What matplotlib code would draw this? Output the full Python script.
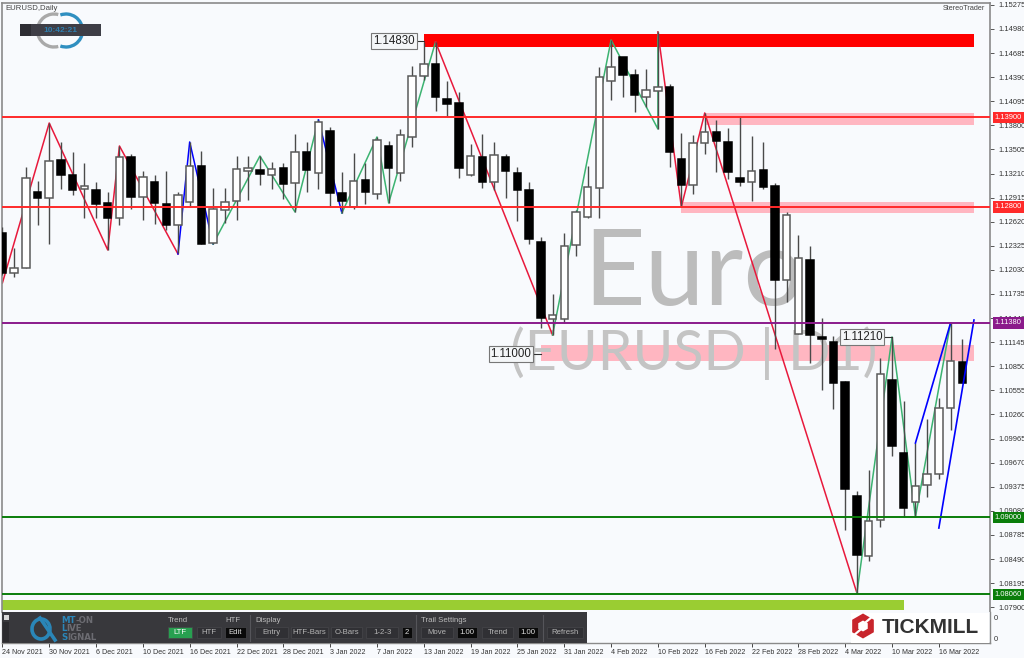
import matplotlib
matplotlib.use('Agg')
import matplotlib.pyplot as plt
from matplotlib.patches import Arc, Rectangle, RegularPolygon

plt.rcParams['font.family'] = ['Liberation Sans', 'DejaVu Sans']

# Daily candles
opens = [1.12482, 1.11992, 1.12053, 1.12984, 1.12910, 1.13375, 1.13192, 1.13020, 1.13008, 1.12849,
         1.12665, 1.13412, 1.12922, 1.13106, 1.12837, 1.12580, 1.12861, 1.13302, 1.12359, 1.12763,
         1.12873, 1.13241, 1.13253, 1.13192, 1.13278, 1.13094, 1.13473, 1.13216, 1.13730, 1.12971,
         1.12800, 1.13131, 1.12959, 1.13547, 1.13216, 1.13657, 1.14404, 1.14551, 1.14122, 1.14073,
         1.13192, 1.13412, 1.13106, 1.13412, 1.13216, 1.13008, 1.12372, 1.11429, 1.11429, 1.12335,
         1.12678, 1.13033, 1.14342, 1.14636, 1.14416, 1.14147, 1.14220, 1.14269, 1.13388, 1.13069,
         1.13584, 1.13718, 1.13596, 1.13155, 1.13106, 1.13253, 1.13057, 1.11907, 1.11245, 1.12151,
         1.11209, 1.11147, 1.10658, 1.09262, 1.08528, 1.08969, 1.10683, 1.09789, 1.09189, 1.09397,
         1.09532, 1.10340, 1.10903]
highs = [1.12555, 1.12298, 1.13290, 1.13118, 1.13828, 1.13596, 1.13473, 1.13339, 1.13106, 1.12984,
         1.13547, 1.13449, 1.13241, 1.13192, 1.13241, 1.12984, 1.13596, 1.13486, 1.13033, 1.13033,
         1.13424, 1.13424, 1.13424, 1.13351, 1.13339, 1.13694, 1.13596, 1.13865, 1.13779, 1.13229,
         1.13461, 1.13339, 1.13657, 1.13608, 1.13755, 1.14526, 1.14820, 1.14820, 1.14342, 1.14208,
         1.13571, 1.13694, 1.13596, 1.13449, 1.13290, 1.13106, 1.12433, 1.11735, 1.12482, 1.12763,
         1.13302, 1.14514, 1.14844, 1.14636, 1.14489, 1.14489, 1.14942, 1.14306, 1.13706, 1.13681,
         1.13951, 1.13865, 1.13767, 1.13902, 1.13669, 1.13596, 1.13094, 1.12739, 1.12457, 1.12323,
         1.11441, 1.11221, 1.10670, 1.09324, 1.09581, 1.10952, 1.11209, 1.10425, 1.09911, 1.10205,
         1.10462, 1.11380, 1.11184]
lows = [1.11967, 1.11943, 1.12053, 1.12580, 1.12347, 1.13020, 1.12947, 1.12665, 1.12665, 1.12274,
        1.12580, 1.12776, 1.12641, 1.12592, 1.12519, 1.12237, 1.12812, 1.12347, 1.12347, 1.12604,
        1.12641, 1.12886, 1.13069, 1.13020, 1.12898, 1.12739, 1.12984, 1.13020, 1.12800, 1.12727,
        1.12776, 1.12837, 1.12898, 1.12849, 1.13118, 1.13535, 1.14355, 1.13975, 1.13902, 1.13155,
        1.13180, 1.13033, 1.13008, 1.12910, 1.12629, 1.12347, 1.11319, 1.11233, 1.11380, 1.12200,
        1.12665, 1.12665, 1.14110, 1.14147, 1.13963, 1.14024, 1.13755, 1.13290, 1.12800, 1.12959,
        1.13449, 1.13229, 1.13143, 1.13057, 1.12873, 1.13020, 1.11062, 1.11637, 1.11245, 1.10890,
        1.10560, 1.10328, 1.08846, 1.08075, 1.08467, 1.08883, 1.09752, 1.09005, 1.09005, 1.09250,
        1.09470, 1.10070, 1.10646]
closes = [1.11992, 1.12053, 1.13155, 1.12910, 1.13363, 1.13192, 1.13008, 1.13057, 1.12837, 1.12665,
          1.13412, 1.12922, 1.13167, 1.12849, 1.12580, 1.12947, 1.13302, 1.12347, 1.12776, 1.12861,
          1.13265, 1.13278, 1.13204, 1.13265, 1.13082, 1.13473, 1.13253, 1.13841, 1.12971, 1.12873,
          1.13118, 1.12984, 1.13620, 1.13278, 1.13681, 1.14404, 1.14551, 1.14147, 1.14061, 1.13278,
          1.13424, 1.13106, 1.13437, 1.13241, 1.13008, 1.12408, 1.11441, 1.11478, 1.12323, 1.12739,
          1.13045, 1.14391, 1.14514, 1.14416, 1.14171, 1.14232, 1.14269, 1.13473, 1.13069, 1.13584,
          1.13718, 1.13608, 1.13229, 1.13106, 1.13241, 1.13045, 1.11907, 1.12702, 1.12176, 1.11233,
          1.11184, 1.10646, 1.09348, 1.08540, 1.08956, 1.10756, 1.09874, 1.09116, 1.09385, 1.09532,
          1.10340, 1.10915, 1.10646]

# Zigzag legs: bar number, price
red_x1 = [0, 4, 9, 10, 15]
red_y1 = [1.11870, 1.13828, 1.12274, 1.13547, 1.12225]
blue_x1 = [15, 16, 18]
blue_y1 = [1.12225, 1.13596, 1.12347]
green_x1 = [18, 22, 25, 27]
green_y1 = [1.12347, 1.13424, 1.12739, 1.13865]
blue_x2 = [27, 29]
blue_y2 = [1.13865, 1.12727]
green_x2 = [29, 32, 33, 37]
green_y2 = [1.12727, 1.13657, 1.12849, 1.14820]
red_x2 = [37, 47]
red_y2 = [1.14820, 1.11233]
green_x3 = [47, 52, 56, 56]
green_y3 = [1.11233, 1.14844, 1.13755, 1.14942]
red_x3 = [56, 58, 60, 73]
red_y3 = [1.14942, 1.12800, 1.13951, 1.08075]
green_x4 = [73, 76, 78, 81]
green_y4 = [1.08075, 1.11209, 1.09005, 1.11380]
channel_x1 = [78, 81]
channel_y1 = [1.09911, 1.11380]
channel_x2 = [80, 83]
channel_y2 = [1.08870, 1.11417]

# Price levels and zones
level_prices = [1.13900, 1.12800, 1.11380, 1.09000, 1.08060]
level_colors = ['#ff2a2a', '#ff2a2a', '#8b1a8b', '#0a7d0a', '#0a7d0a']
level_labels = ['1.13900', '1.12800', '1.11380', '1.09000', '1.08060']
zone_start = [36, 60, 58, 46, 0]
zone_end = [83, 83, 83, 83, 77]
zone_top = [1.14917, 1.13951, 1.12861, 1.11105, 1.07995]
zone_bottom = [1.14759, 1.13804, 1.12727, 1.10909, 1.07861]
zone_colors = ['#ff0000', '#ffb6c1', '#ffb6c1', '#ffb6c1', '#9acd32']

price_ticks = [1.15275, 1.14980, 1.14685, 1.14390, 1.14095, 1.13800, 1.13505, 1.13210, 1.12915,
               1.12620, 1.12325, 1.12030, 1.11735, 1.11440, 1.11145, 1.10850, 1.10555, 1.10260,
               1.09965, 1.09670, 1.09375, 1.09080, 1.08785, 1.08490, 1.08195, 1.07900]
date_bars = [0, 4, 8, 12, 16, 20, 24, 28, 32, 36, 40, 44, 48, 52, 56, 60, 64, 68, 72, 76, 80]
date_labels = ['24 Nov 2021', '30 Nov 2021', '6 Dec 2021', '10 Dec 2021', '16 Dec 2021',
               '22 Dec 2021', '28 Dec 2021', '3 Jan 2022', '7 Jan 2022', '13 Jan 2022',
               '19 Jan 2022', '25 Jan 2022', '31 Jan 2022', '4 Feb 2022', '10 Feb 2022',
               '16 Feb 2022', '22 Feb 2022', '28 Feb 2022', '4 Mar 2022', '10 Mar 2022',
               '16 Mar 2022']

BG = '#f8fafd'
W, H = 1024, 658

fig = plt.figure(figsize=(W / 100, H / 100), dpi=100, facecolor=BG)


def px_axes(left, top, right, bottom):
    return fig.add_axes([left / W, 1 - bottom / H, (right - left) / W, (bottom - top) / H])


# Main price window
ax = px_axes(2, 3, 990, 612)
ax.set_facecolor(BG)
ax.set_xlim(-0.034, 84.37)
ax.set_ylim(1.078423, 1.152971)
ax.spines['bottom'].set_visible(False)
for s in ['top', 'left', 'right']:
    ax.spines[s].set_color('#8a8a8a')
    ax.spines[s].set_linewidth(1.2)

for i in range(len(zone_start)):
    ax.add_patch(Rectangle((zone_start[i], zone_bottom[i]), zone_end[i] - zone_start[i],
                           zone_top[i] - zone_bottom[i], color=zone_colors[i], lw=0, zorder=1))

# Watermark
ax.text(49.6, 1.11600, 'Euro', fontsize=77, color='#bcbcbc', family='Lato',
        va='baseline', ha='left', zorder=1.5)
ax.text(43.4, 1.10805, '(EURUSD | D1)', fontsize=40, color='#c4c4c4', family='Lato',
        va='baseline', ha='left', zorder=1.5)

# Zigzags
for xs, ys, c in [(red_x1, red_y1, '#e8193c'), (blue_x1, blue_y1, '#0000ff'),
                  (green_x1, green_y1, '#3cb371'), (blue_x2, blue_y2, '#0000ff'),
                  (green_x2, green_y2, '#3cb371'), (red_x2, red_y2, '#e8193c'),
                  (green_x3, green_y3, '#3cb371'), (red_x3, red_y3, '#e8193c'),
                  (green_x4, green_y4, '#3cb371')]:
    ax.plot(xs, ys, color=c, lw=1.1, zorder=2)

# Candles
bars = list(range(len(opens)))
ax.vlines(bars, lows, highs, colors='#4a4a4a', lw=1, zorder=3)
for i in bars:
    up = closes[i] >= opens[i]
    ax.bar(i, abs(closes[i] - opens[i]), bottom=min(opens[i], closes[i]), width=0.64,
           color='white' if up else 'black', edgecolor='#5a5a5a' if up else 'black',
           lw=1.1, zorder=3.5)

# Channel lines go over the candles
ax.plot(channel_x1, channel_y1, color='#0000ff', lw=1.2, zorder=3.7)
ax.plot(channel_x2, channel_y2, color='#0000ff', lw=1.2, zorder=3.7)

for p, c in zip(level_prices, level_colors):
    ax.axhline(p, color=c, lw=1.4, zorder=4)

ax.set_xticks([])
ax.yaxis.tick_right()
ax.set_yticks(price_ticks)
ax.set_yticklabels(['%.5f' % p for p in price_ticks])
ax.tick_params(axis='y', length=3, width=0.7, pad=3, labelsize=5.4, color='#555555', labelcolor='#333333')

# Level tags on the price scale
for p, c, t in zip(level_prices, level_colors, level_labels):
    ax.annotate(t, xy=(1, p), xycoords=('axes fraction', 'data'), xytext=(3.5, 0),
                textcoords='offset points', fontsize=5.4, color='white', va='center', ha='left',
                zorder=6, annotation_clip=False,
                bbox=dict(boxstyle='square,pad=0.28', fc=c, ec='none'))

# Lower window, carries the date scale
ax2 = px_axes(2, 612, 990, 643)
ax2.set_facecolor(BG)
ax2.set_xlim(ax.get_xlim())
ax2.set_ylim(0, 1)
for s in ax2.spines.values():
    s.set_color('#8a8a8a')
    s.set_linewidth(1.0)
ax2.spines['top'].set_visible(False)
ax2.yaxis.tick_right()
ax2.set_yticks([0.16, 0.82])
ax2.set_yticklabels(['0', '0'])
ax2.tick_params(axis='y', length=0, pad=3, labelsize=5.4, labelcolor='#333333')
ax2.set_xticks(date_bars)
ax2.set_xticklabels(date_labels, ha='left')
ax2.tick_params(axis='x', length=3, width=0.7, pad=1.5, labelsize=5.1, color='#444444', labelcolor='#333333')

# Overlays placed in picture pixels
top = fig.add_axes([0, 0, 1, 1], facecolor='none')
top.set_xlim(0, W)
top.set_ylim(H, 0)
top.axis('off')

top.text(5, 8, 'EURUSD,Daily', fontsize=5.6, color='#444444', va='center')
top.text(985, 8, 'StereoTrader', fontsize=5.2, color='#444444', va='center', ha='right')

# Clock widget
top.add_patch(Arc((54, 30.5), 33, 33, theta1=75, theta2=285, color='#a9a9a9', lw=2.4))
top.add_patch(Arc((66, 30.5), 33, 33, theta1=-110, theta2=110, color='#2f8fc0', lw=2.4))
top.add_patch(Rectangle((20, 24), 81, 12, color='#3e3e46', lw=0))
top.add_patch(Rectangle((20, 24), 11, 12, color='#2d2d33', lw=0))
top.text(60, 30, '10:42:21', fontsize=6, color='#2f7fb0', weight='bold', va='center', ha='center')

# Price callouts
for x0, x1, y, x2, t in [(372, 416, 41, 424, '1.14830'), (489, 533, 354, 541, '1.11000'),
                         (840, 884, 337, 892, '1.11210')]:
    top.plot([x1, x2], [y, y], color='#333333', lw=0.8)
    top.text((x0 + x1) / 2, y, t, fontsize=8.3, color='#222222', va='center', ha='center',
             bbox=dict(boxstyle='square,pad=0.16', fc='#f4f6f8', ec='#777777', lw=0.8))

# Control panel
top.add_patch(Rectangle((2, 612), 585, 31, color='#38383c', lw=0))
top.add_patch(Rectangle((3, 622), 6, 20, color='#2b2b2f', lw=0))
top.add_patch(Rectangle((4, 615), 5, 5, color='#d8d8d8', lw=0))
top.add_patch(Arc((41, 629), 18, 20, theta1=0, theta2=360, color='#2a86b8', lw=2.6))
top.plot([40, 55], [618, 640], color='#2a86b8', lw=2.6)
for y, a, b, c in [(620.5, 'MT', '-ON', 61), (628.5, 'L', 'IVE', 61), (637, 'S', 'IGNAL', 61)]:
    tx = top.text(c, y, a, fontsize=6.2, color='#2a86b8', weight='bold', va='center', family='DejaVu Sans')
    top.annotate(b, xy=(1, 0.5), xycoords=tx, va='center', fontsize=6.2, color='#6c6c72',
                 weight='bold', family='DejaVu Sans')

for x, t in [(168, 'Trend'), (225, 'HTF'), (255, 'Display'), (421, 'Trail Settings')]:
    top.text(x, 621, t, fontsize=5.6, color='#bcbcbc', va='center')

buttons = [(168, 192, '#27a050', 'LTF', 'white'), (197, 221, '#303034', 'HTF', '#b5b5b5'),
           (225, 246, '#0a0a0a', 'Edit', '#dddddd'), (255, 288, '#303034', 'Entry', '#b5b5b5'),
           (291, 328, '#303034', 'HTF-Bars', '#b5b5b5'), (331, 362, '#303034', 'O-Bars', '#b5b5b5'),
           (366, 398, '#303034', '1-2-3', '#b5b5b5'), (402, 412, '#0a0a0a', '2', '#dddddd'),
           (421, 453, '#303034', 'Move', '#b5b5b5'), (457, 477, '#0a0a0a', '1.00', '#dddddd'),
           (482, 513, '#303034', 'Trend', '#b5b5b5'), (518, 538, '#0a0a0a', '1.00', '#dddddd'),
           (547, 583, '#303034', 'Refresh', '#b5b5b5')]
for x0, x1, c, t, tc in buttons:
    top.add_patch(Rectangle((x0, 627), x1 - x0, 11, fc=c, ec='#46464a', lw=0.5))
    top.text((x0 + x1) / 2, 632.5, t, fontsize=5.6, color=tc, va='center', ha='center')
for x in [250, 416, 543]:
    top.plot([x, x], [615, 641], color='#55555a', lw=0.8)

# Broker logo
top.add_patch(Rectangle((851, 613), 138, 29.5, color='white', lw=0))
top.add_patch(RegularPolygon((863, 626), 6, radius=12.5, color='#c8252c', lw=0))
top.add_patch(RegularPolygon((863, 626), 6, radius=5.5, color='white', lw=0))
top.plot([866, 873], [622, 616], color='white', lw=1.6)
top.plot([853, 860], [636, 630], color='white', lw=1.6)
top.text(882, 627.5, 'TICKMILL', fontsize=15, color='#333333', weight='bold', va='center', ha='left')

fig.savefig('out.png', dpi=100, facecolor=BG)
